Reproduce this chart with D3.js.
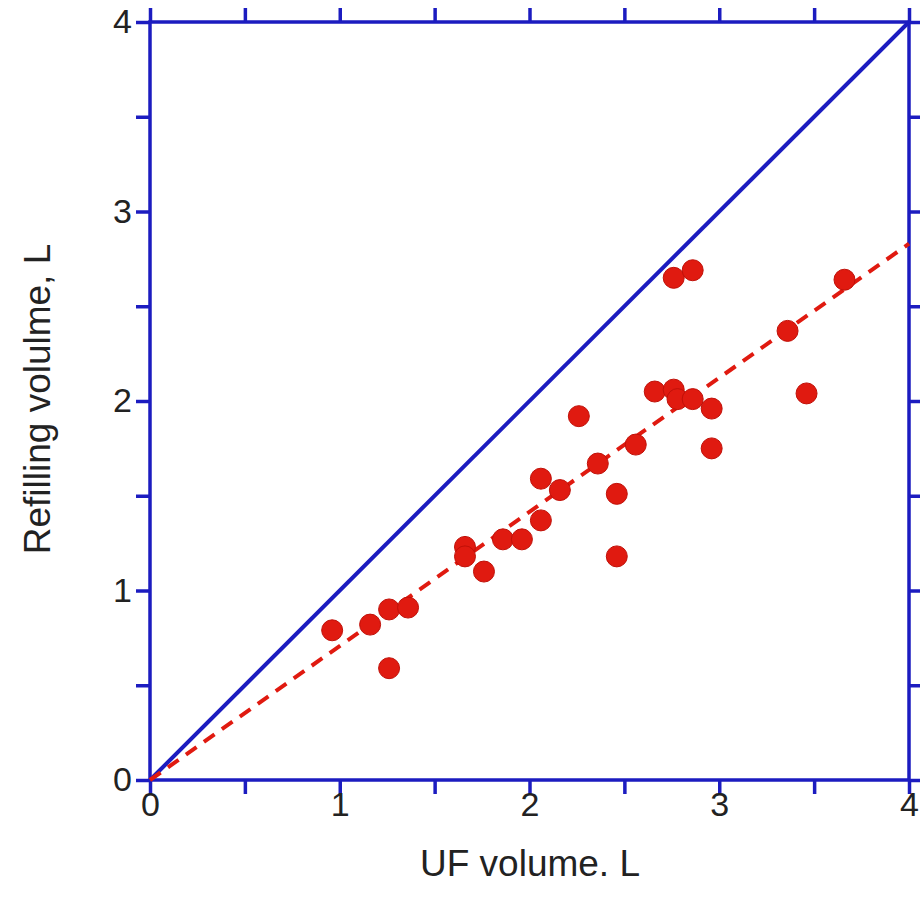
<!DOCTYPE html>
<html><head><meta charset="utf-8">
<script src="https://cdn.jsdelivr.net/npm/d3@7"></script>
<style>body{margin:0;background:#fff}svg{display:block}text{font-family:"Liberation Sans",Arial,sans-serif;fill:#222}</style>
</head><body><div id="chart"></div>
<script>
const ufVolume = [0.96,1.16,1.26,1.36,1.26,1.66,1.66,1.76,1.86,1.96,2.06,2.06,2.16,2.26,2.36,2.46,2.46,2.56,2.66,2.76,2.78,2.86,2.96,2.96,2.76,2.86,3.36,3.46,3.66];
const refillVolume = [0.79,0.82,0.90,0.91,0.59,1.23,1.18,1.10,1.27,1.27,1.37,1.59,1.53,1.92,1.67,1.51,1.18,1.77,2.05,2.06,2.01,2.01,1.96,1.75,2.65,2.69,2.37,2.04,2.64];
const identityLine = [[0,0],[4,4]];
const fitLine = [[0,0],[4,2.83]];
const majorTicks = [0,1,2,3,4];
const minorTicks = [0.5,1.5,2.5,3.5];
const xTitle = "UF volume. L";
const yTitle = "Refilling volulme, L";

const W=920,H=908, L=150,R=909,T=22,B=780;
const blue="#1c1cc0", red="#e01a10";
const svg=d3.select("#chart").append("svg").attr("width",W).attr("height",H);
const x=d3.scaleLinear().domain([0,4]).range([L,R]);
const y=d3.scaleLinear().domain([0,4]).range([B,T]);
const allTicks=majorTicks.concat(minorTicks);

function styleAxis(g){
  g.select(".domain").remove();
  g.selectAll(".tick line").attr("stroke",blue).attr("stroke-width",3.5);
  g.selectAll(".tick text").style("font-size","34px").style("font-family","'Liberation Sans',Arial,sans-serif").attr("fill","#222");
}
const fmt=d=>majorTicks.includes(d)?d3.format("d")(d):"";
svg.append("g").attr("transform",`translate(0,${B})`).call(d3.axisBottom(x).tickValues(allTicks).tickFormat(fmt).tickSize(14).tickPadding(-2)).call(styleAxis);
svg.append("g").attr("transform",`translate(${L},0)`).call(d3.axisLeft(y).tickValues(allTicks).tickFormat(fmt).tickSize(14).tickPadding(4)).call(styleAxis);
svg.append("g").attr("transform",`translate(0,${T})`).call(d3.axisTop(x).tickValues(allTicks).tickFormat("").tickSize(14)).call(styleAxis);
svg.append("g").attr("transform",`translate(${R},0)`).call(d3.axisRight(y).tickValues(allTicks).tickFormat("").tickSize(14)).call(styleAxis);

svg.append("rect").attr("x",L).attr("y",T).attr("width",R-L).attr("height",B-T).attr("fill","none").attr("stroke",blue).attr("stroke-width",3.5);

const line=d3.line().x(d=>x(d[0])).y(d=>y(d[1]));
svg.append("path").datum(identityLine).attr("d",line).attr("stroke",blue).attr("stroke-width",4).attr("fill","none");
svg.append("path").datum(fitLine).attr("d",line).attr("stroke",red).attr("stroke-width",4).attr("stroke-dasharray","13,9").attr("fill","none");

svg.append("g").selectAll("circle").data(ufVolume.map((v,i)=>[v,refillVolume[i]])).join("circle")
  .attr("cx",d=>x(d[0])).attr("cy",d=>y(d[1])).attr("r",10.5)
  .attr("fill",red).attr("stroke","#c01008").attr("stroke-width",1);

svg.append("text").attr("x",530).attr("y",876).attr("text-anchor","middle").style("font-size","37px").text(xTitle);
svg.append("text").attr("transform",`translate(50,399) rotate(-90)`).attr("text-anchor","middle").style("font-size","37px").text(yTitle);
</script></body></html>
